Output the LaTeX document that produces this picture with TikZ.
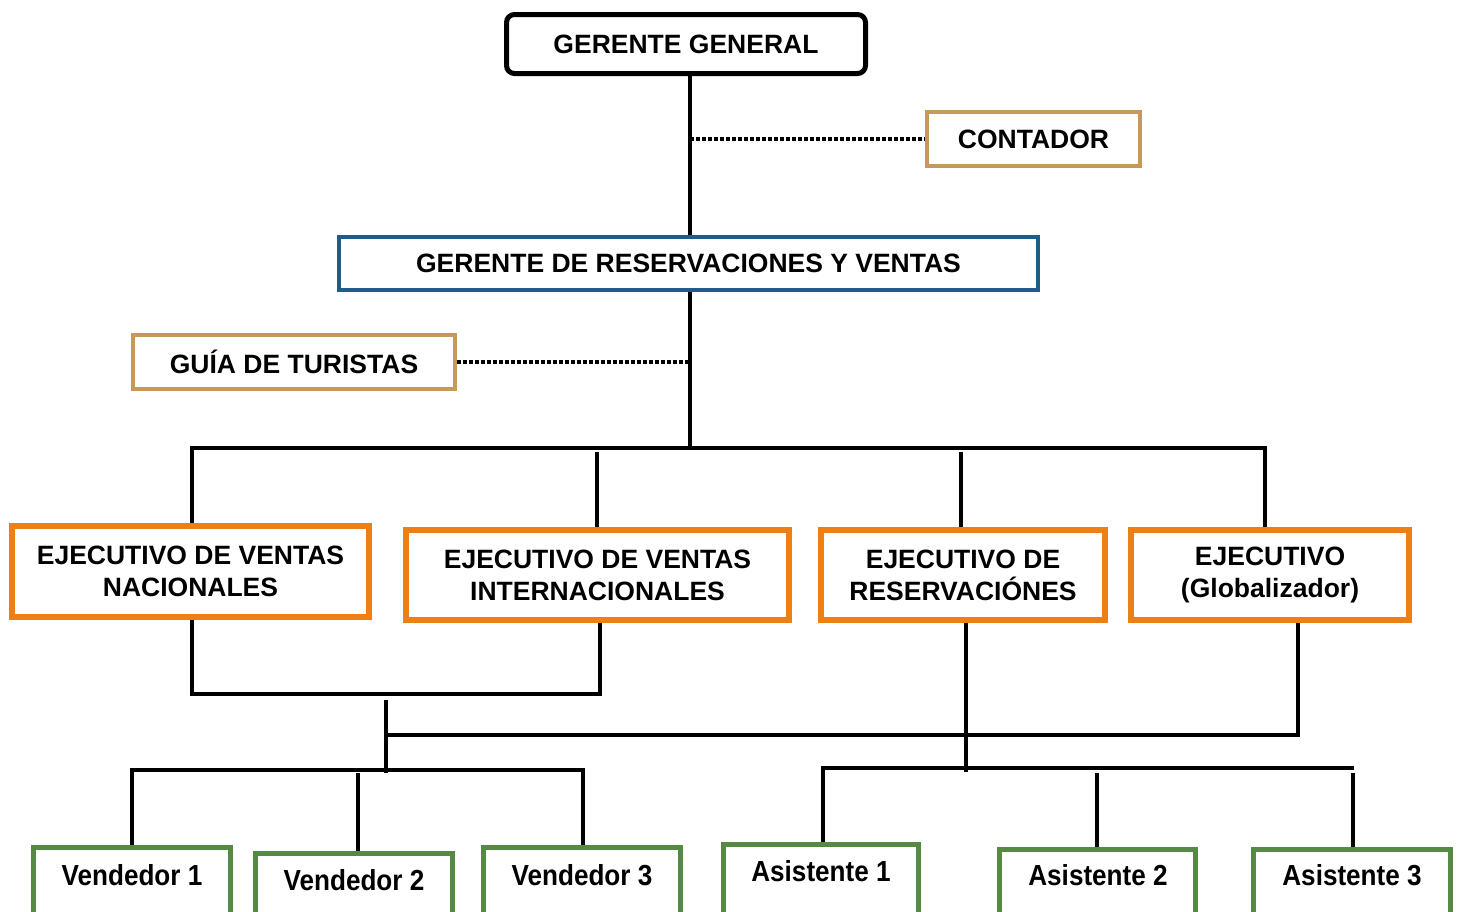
\documentclass[tikz,border=0pt]{standalone}
\usepackage{fontspec}
\setmainfont{Liberation Sans}
\newfontfamily\narrowfont[FakeStretch=0.9]{Liberation Sans}
\usetikzlibrary{backgrounds}
\definecolor{orgc}{RGB}{238,127,20}
\definecolor{tanc}{RGB}{196,154,92}
\definecolor{bluec}{RGB}{31,93,134}
\definecolor{greenc}{RGB}{84,138,67}
\tikzset{
  box/.style={draw, fill=white, inner sep=0pt, align=center, text=black,
    font=\bfseries\fontsize{13.25}{16}\selectfont},
  ggbox/.style={box, line width=2.5pt, rounded corners=4pt},
  tanbox/.style={box, draw=tanc, line width=2.25pt},
  bluebox/.style={box, draw=bluec, line width=2.25pt},
  orgbox/.style={box, draw=orgc, line width=3pt},
  greenbox/.style={draw=greenc, fill=white, line width=2.5pt, inner sep=0pt,
    minimum height=50pt, anchor=north},
  gtext/.style={inner sep=0pt, font=\narrowfont\bfseries\fontsize{14.5}{17}\selectfont},
  conn/.style={line width=1.75pt, black},
  dotline/.style={line width=2pt, black, dash pattern=on 1.75pt off 1.25pt},
}
\begin{document}
\begin{tikzpicture}[x=0.5pt,y=-0.5pt]
\useasboundingbox (0,0) rectangle (1459,911);
\clip (0,0) rectangle (1459,911);
% nodes
\node[ggbox, minimum width=179.5pt, minimum height=29.5pt] (gg) at (686,44) {GERENTE GENERAL};
\node[tanbox, minimum width=106.5pt, minimum height=27pt] (cont) at (1033.5,139) {CONTADOR};
\node[bluebox, minimum width=349.5pt, minimum height=26.5pt] (grv) at (688.5,263.5) {GERENTE DE RESERVACIONES Y VENTAS};
\node[tanbox, minimum width=161pt, minimum height=27pt] (guia) at (294,362) {GUÍA DE TURISTAS};
\node[orgbox, minimum width=178.5pt, minimum height=45.5pt] (env) at (190.5,571.5) {EJECUTIVO DE VENTAS\\NACIONALES};
\node[orgbox, minimum width=191.5pt, minimum height=45pt] (evi) at (597.5,575) {EJECUTIVO DE VENTAS\\INTERNACIONALES};
\node[orgbox, minimum width=142pt, minimum height=45pt] (er) at (963,575) {EJECUTIVO DE\\RESERVACIÓNES};
\node[orgbox, minimum width=139pt, minimum height=45pt] (eg) at (1270,575) {EJECUTIVO\\(Globalizador)};
% green boxes
\node[greenbox, minimum width=98.5pt] (v1) at (132,844.5) {};
\node[greenbox, minimum width=98.5pt] (v2) at (354,850.5) {};
\node[greenbox, minimum width=98.5pt] (v3) at (582,844.5) {};
\node[greenbox, minimum width=97.5pt] (a1) at (821,841.5) {};
\node[greenbox, minimum width=98pt] (a2) at (1097.5,846.5) {};
\node[greenbox, minimum width=98.5pt] (a3) at (1352,846.5) {};
\node[gtext] (v1t) at (132,875) {Vendedor 1};
\node[gtext] (v2t) at (354,880) {Vendedor 2};
\node[gtext] (v3t) at (582,875) {Vendedor 3};
\node[gtext] (a1t) at (821,871) {Asistente 1};
\node[gtext] (a2t) at (1098,875) {Asistente 2};
\node[gtext] (a3t) at (1352,875) {Asistente 3};
% coordinates
\coordinate (bus) at (690,448);
\coordinate (b1) at (192,448);
\coordinate (b2s) at (597,452);
\coordinate (b3s) at (961,452);
\coordinate (b4) at (1265,448);
\coordinate (j1) at (192,694);
\coordinate (j2) at (600,694);
\coordinate (m1) at (386,700);
\coordinate (m2) at (386,773);
\coordinate (k1) at (386,735);
\coordinate (k2) at (1298,735);
\coordinate (r1) at (966,772);
\coordinate (vb1) at (132,770);
\coordinate (vb2) at (583,770);
\coordinate (vd2) at (358,773);
\coordinate (ab1) at (823,768);
\coordinate (ab2) at (1354,768);
\coordinate (ad2) at (1097,773);
\coordinate (ad3) at (1353,773);
\begin{pgfonlayer}{background}
\draw[conn] (bus |- gg.south) -- (bus |- grv.north);
\draw[dotline] (bus |- cont.west) -- (cont.west);
\draw[conn] (bus |- grv.south) -- (bus);
\draw[dotline] (guia.east) -- (guia.east -| bus);
\draw[conn] (b1 |- env.north) -- (b1) -- (b4) -- (b4 |- eg.north);
\draw[conn] (b2s) -- (b2s |- evi.north);
\draw[conn] (b3s) -- (b3s |- er.north);
\draw[conn] (j1 |- env.south) -- (j1) -- (j2) -- (j2 |- evi.south);
\draw[conn] (m1) -- (m2);
\draw[conn] (k1) -- (k2) -- (k2 |- eg.south);
\draw[conn] (r1 |- er.south) -- (r1);
\draw[conn] (vb1 |- v1.north) -- (vb1) -- (vb2) -- (vb2 |- v3.north);
\draw[conn] (vd2) -- (vd2 |- v2.north);
\draw[conn] (ab1 |- a1.north) -- (ab1) -- (ab2);
\draw[conn] (ad2) -- (ad2 |- a2.north);
\draw[conn] (ad3) -- (ad3 |- a3.north);
\end{pgfonlayer}
\end{tikzpicture}
\end{document}
